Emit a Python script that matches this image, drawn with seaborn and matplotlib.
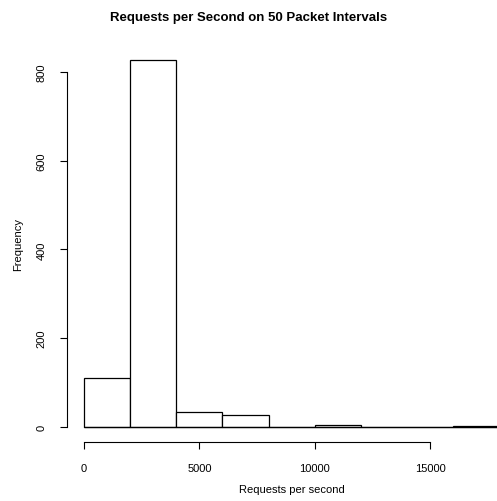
import numpy as np
import matplotlib
matplotlib.use('Agg')
import matplotlib.pyplot as plt
import seaborn as sns

# histogram counts (bin width 2000)
bin_edges = [0, 2000, 4000, 6000, 8000, 10000, 12000, 14000, 16000, 18000]
counts = [111, 827, 33, 27, 0, 4, 0, 0, 2]
bin_left = bin_edges[:-1]
x_ticks = [0, 5000, 10000, 15000]
y_ticks = [0, 200, 400, 600, 800]

sns.set_style('white')
plt.rcParams['font.family'] = ['Liberation Sans', 'DejaVu Sans']
plt.rcParams['text.color'] = 'black'
plt.rcParams['axes.labelcolor'] = 'black'
plt.rcParams['xtick.color'] = 'black'
plt.rcParams['ytick.color'] = 'black'

fig = plt.figure(figsize=(4.97, 5.02), dpi=100)
ax = fig.add_axes([0.1356, 0.1181, 0.9024, 0.790])

sns.histplot(x=bin_left, weights=counts, bins=bin_edges, ax=ax,
             color='white', edgecolor='black', linewidth=0.9, alpha=1)
ax.plot([0, 18000], [0, 0], color='black', linewidth=0.9)

ax.set_xlim(-720, 18720)
ax.set_ylim(-33, 860)
for s in ['top', 'right']:
    ax.spines[s].set_visible(False)
ax.spines['bottom'].set_bounds(0, 15000)
ax.spines['left'].set_bounds(0, 800)
for s in ['bottom', 'left']:
    ax.spines[s].set_linewidth(0.8)
    ax.spines[s].set_color('black')

ax.set_xticks(x_ticks)
ax.set_xticklabels([str(t) for t in x_ticks])
ax.set_yticks(y_ticks)
ax.set_yticklabels([str(t) for t in y_ticks], rotation=90, va='center')
ax.tick_params(axis='both', direction='out', length=5, width=0.8,
               labelsize=8, pad=10, bottom=True, left=True)

ax.set_xlabel('Requests per second', fontsize=8, labelpad=8)
ax.set_ylabel('Frequency', fontsize=8, labelpad=10)
fig.suptitle('Requests per Second on 50 Packet Intervals', fontsize=9.5,
             fontweight='bold', y=0.977)

fig.savefig('out.png', dpi=100)
